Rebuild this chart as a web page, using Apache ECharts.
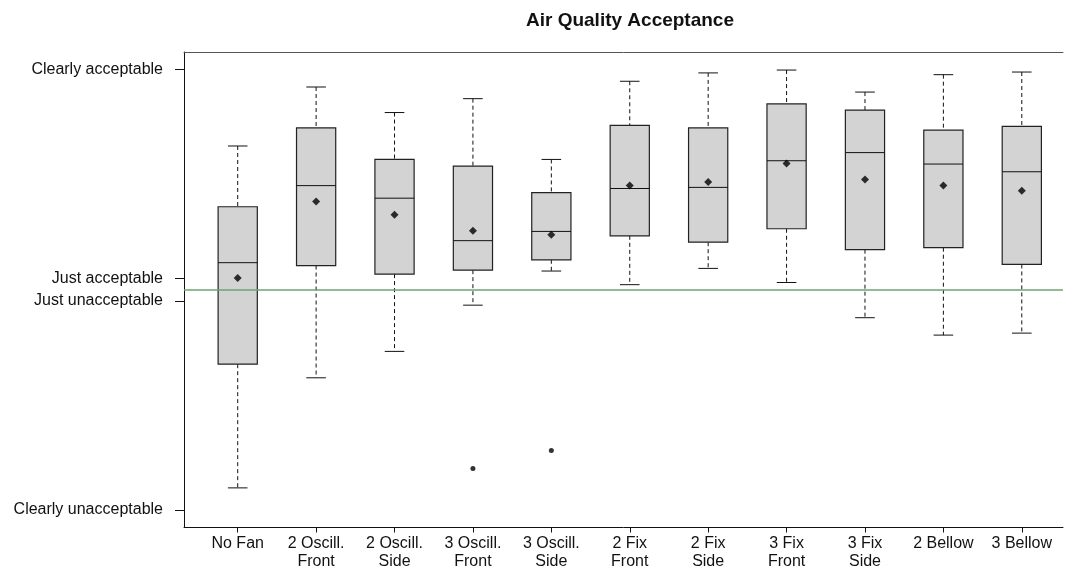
<!DOCTYPE html>
<html>
<head>
<meta charset="utf-8">
<script src="https://cdn.jsdelivr.net/npm/echarts@6/dist/echarts.min.js"></script>
<style>
  html, body { margin: 0; padding: 0; background: #fff; }
  #chart { width: 1066px; height: 571px; }
</style>
</head>
<body>
<div id="chart"></div>
<script>
const categories = ['No Fan', '2 Oscill.\nFront', '2 Oscill.\nSide', '3 Oscill.\nFront', '3 Oscill.\nSide',
  '2 Fix\nFront', '2 Fix\nSide', '3 Fix\nFront', '3 Fix\nSide', '2 Bellow', '3 Bellow'];

// whisker ends, quartiles, medians, means
const lowWhisker = [-0.90, -0.40, -0.28, -0.07, 0.085, 0.023, 0.097, 0.033, -0.127, -0.206, -0.197];
const q1 = [-0.338, 0.11, 0.071, 0.089, 0.136, 0.245, 0.216, 0.277, 0.182, 0.191, 0.115];
const medians = [0.123, 0.473, 0.416, 0.223, 0.265, 0.46, 0.465, 0.586, 0.623, 0.571, 0.536];
const q3 = [0.377, 0.735, 0.592, 0.562, 0.441, 0.747, 0.735, 0.844, 0.816, 0.725, 0.742];
const highWhisker = [0.653, 0.921, 0.805, 0.868, 0.592, 0.947, 0.985, 0.998, 0.898, 0.977, 0.989];
const means = [0.053, 0.401, 0.341, 0.268, 0.25, 0.473, 0.489, 0.573, 0.501, 0.474, 0.45];
const outliers = [[3, -0.812], [4, -0.730]];

const yTickValues = [1, 0.05, -0.05, -1];
const yTickLabels = ['Clearly acceptable', 'Just acceptable', 'Just unacceptable', 'Clearly unacceptable'];

const font = 'Liberation Sans, Arial, sans-serif';
const boxData = categories.map((c, i) => [i, lowWhisker[i], q1[i], medians[i], q3[i], highWhisker[i]]);

const chart = echarts.init(document.getElementById('chart'));

function renderBox(params, api) {
  const i = api.value(0);
  const w = api.size([1, 0])[0] * 0.5;
  const capW = w * 0.5;
  const lo = api.coord([i, api.value(1)]);
  const b1 = api.coord([i, api.value(2)]);
  const md = api.coord([i, api.value(3)]);
  const b3 = api.coord([i, api.value(4)]);
  const hi = api.coord([i, api.value(5)]);
  const x = lo[0];
  const line = (x1, y1, x2, y2, dash) => ({
    type: 'line',
    shape: { x1, y1, x2, y2 },
    style: { stroke: '#111', lineWidth: 1, lineDash: dash || null }
  });
  return {
    type: 'group',
    children: [
      line(x, hi[1], x, b3[1], [4, 3]),
      line(x, b1[1], x, lo[1], [4, 3]),
      line(x - capW / 2, hi[1], x + capW / 2, hi[1]),
      line(x - capW / 2, lo[1], x + capW / 2, lo[1]),
      {
        type: 'rect',
        shape: { x: x - w / 2, y: b3[1], width: w, height: b1[1] - b3[1] },
        style: { fill: '#d3d3d3', stroke: '#222', lineWidth: 1.2 }
      },
      line(x - w / 2, md[1], x + w / 2, md[1])
    ]
  };
}

chart.setOption({
  animation: false,
  title: {
    text: 'Air Quality Acceptance',
    left: 630,
    top: 11,
    padding: 0,
    textAlign: 'center',
    textStyle: { fontFamily: font, fontSize: 19, fontWeight: 'bold', color: '#111' }
  },
  grid: [
    { left: 184, right: 3, top: 52, bottom: 43.5, outerBoundsMode: 'none' },
    { left: 198.5, right: 5, top: 52, bottom: 43.5, outerBoundsMode: 'none' }
  ],
  xAxis: [
    {
      gridIndex: 0, type: 'value', min: 0, max: 1, position: 'bottom',
      axisLine: { show: true, onZero: false, lineStyle: { color: '#111' } },
      axisTick: { show: false }, axisLabel: { show: false }, splitLine: { show: false }
    },
    {
      gridIndex: 0, type: 'value', min: 0, max: 1, position: 'top',
      axisLine: { show: true, onZero: false, lineStyle: { color: '#555' } },
      axisTick: { show: false }, axisLabel: { show: false }, splitLine: { show: false }
    },
    {
      gridIndex: 1, type: 'category', data: categories,
      axisLine: { show: false, onZero: false },
      axisTick: { show: true, alignWithLabel: true, length: 5, lineStyle: { color: '#111' } },
      axisLabel: { fontFamily: font, fontSize: 16, color: '#111', lineHeight: 18, margin: 7, interval: 0 },
      splitLine: { show: false }
    }
  ],
  yAxis: [
    {
      gridIndex: 0, type: 'value', min: -1.08, max: 1.08,
      axisLine: { show: true, onZero: false, lineStyle: { color: '#111' } },
      axisTick: { show: true, length: 9, customValues: yTickValues, lineStyle: { color: '#111' } },
      axisLabel: {
        customValues: yTickValues,
        margin: 21,
        fontFamily: font, fontSize: 16, color: '#111',
        formatter: v => yTickLabels[yTickValues.indexOf(v)] || ''
      },
      splitLine: { show: false }
    },
    {
      gridIndex: 1, type: 'value', min: -1.08, max: 1.08, show: false, splitLine: { show: false }
    }
  ],
  series: [
    {
      type: 'line', xAxisIndex: 0, yAxisIndex: 0, data: [], silent: true,
      markLine: {
        silent: true, symbol: 'none', label: { show: false },
        lineStyle: { color: '#6fa56f', width: 1.5, type: 'solid' },
        data: [{ yAxis: 0 }]
      }
    },
    {
      type: 'custom', xAxisIndex: 2, yAxisIndex: 1,
      renderItem: renderBox,
      encode: { x: 0, y: [1, 2, 3, 4, 5] },
      data: boxData
    },
    {
      type: 'scatter', xAxisIndex: 2, yAxisIndex: 1,
      symbol: 'diamond', symbolSize: 8,
      itemStyle: { color: '#000' },
      data: means.map((m, i) => [i, m])
    },
    {
      type: 'scatter', xAxisIndex: 2, yAxisIndex: 1,
      symbol: 'circle', symbolSize: 5,
      itemStyle: { color: '#000' },
      data: outliers
    }
  ]
});
</script>
</body>
</html>
